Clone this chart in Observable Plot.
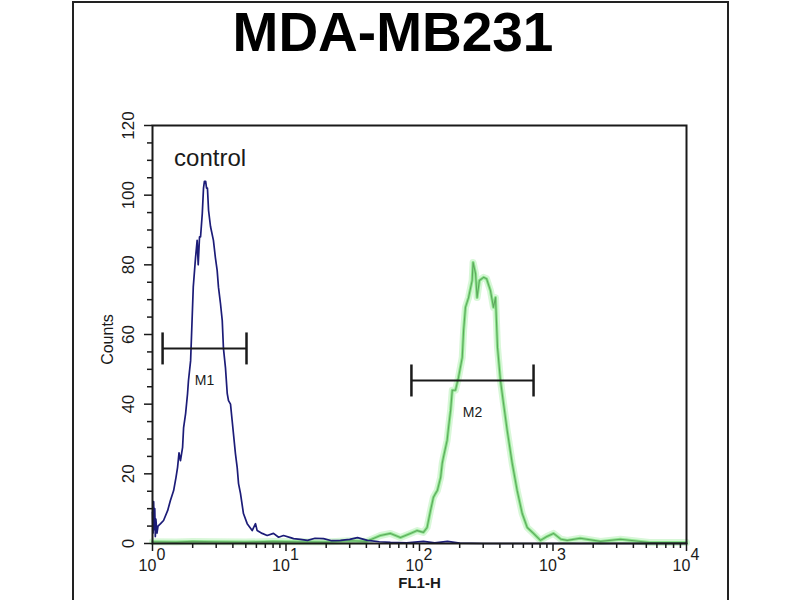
<!DOCTYPE html>
<html><head><meta charset="utf-8">
<script src="https://cdn.jsdelivr.net/npm/d3@7"></script>
<script src="https://cdn.jsdelivr.net/npm/@observablehq/plot@0.6"></script>
<style>
body{margin:0;background:#fff;overflow:hidden}
#wrap{position:relative;width:800px;height:600px;overflow:hidden;font-family:"Liberation Sans",Arial,sans-serif;background:#fff}
#border{position:absolute;left:72px;top:1px;width:653px;height:700px;border:2px solid #222;border-bottom:none}
#title{position:absolute;left:0;width:786px;top:2px;text-align:center;font-weight:bold;font-size:55px;color:#000;line-height:60px}
</style></head><body>
<div id="wrap"><div id="chart"></div><div id="border"></div><div id="title">MDA-MB231</div></div>
<script>
// ---- data ----
const blueX = [1.0, 1.01, 1.02, 1.03, 1.04, 1.05, 1.06, 1.08, 1.1, 1.15, 1.21, 1.3, 1.36, 1.44, 1.5, 1.54, 1.58, 1.62, 1.68, 1.71, 1.77, 1.83, 1.86, 1.93, 1.97, 2.02, 2.1, 2.16, 2.2, 2.25, 2.29, 2.36, 2.41, 2.45, 2.5, 2.54, 2.58, 2.63, 2.72, 2.86, 2.96, 3.05, 3.12, 3.23, 3.33, 3.4, 3.52, 3.63, 3.71, 3.84, 3.95, 4.18, 4.31, 4.41, 4.56, 4.8, 5.12, 5.58, 5.91, 6.08, 6.63, 7.23, 8.06, 8.8, 9.58, 10.8, 11.4, 12.8, 14.5, 16.5, 19.1, 22, 25.6, 30, 34.3, 40.8, 50, 60.6, 80, 107, 130, 162, 200, 300, 1000, 10000];
const blueY = [9, 3, 12, 4, 10, 2, 7, 3, 5, 5.7, 6.6, 9.5, 12.3, 15.2, 19, 21.8, 26, 23.8, 27.6, 33.3, 37.3, 43, 46.8, 52.5, 62, 73.6, 82, 87, 80, 88, 88, 94.7, 102, 104, 104, 102, 102, 95.6, 91, 87, 82, 78.4, 73.6, 68.9, 64, 56, 50.5, 43, 41, 40, 35.3, 25.8, 21.8, 17.2, 14.4, 8.6, 5.7, 3.7, 5.7, 3.7, 2.9, 2.3, 2.9, 1.8, 2.3, 1.7, 1.4, 1.2, 0.9, 1.5, 1.4, 0.8, 0.9, 1.2, 1.7, 0.9, 0.5, 0.3, 0.2, 0.6, 0.2, 0.6, 0.1, 0, 0, 0];
const greenX = [1, 1.5, 2, 3, 5, 8, 12, 20, 30, 40, 51, 60.6, 72, 85.6, 96, 107, 114, 121, 127, 132, 136, 144, 148, 151, 161, 165, 171, 176, 186, 196, 209, 214, 221, 233, 248, 252, 263, 270, 281, 302, 318, 340, 358, 371, 384, 404, 426, 454, 495, 539, 588, 641, 714, 806, 900, 1009, 1150, 1278, 1600, 2270, 3200, 5300, 10000];
const greenY = [0.5, 0.4, 0.6, 0.5, 0.4, 0.6, 0.5, 0.4, 0.8, 0.6, 2.3, 2.9, 1.7, 2.9, 3.7, 3.2, 4.6, 9.5, 13.2, 14.4, 15.2, 19, 23, 24.7, 29.6, 33.3, 38.2, 44, 44, 47.7, 53.4, 61.2, 67.8, 70.6, 75.5, 80.7, 77.5, 70.6, 75.5, 76.4, 76, 72.6, 67.8, 70.6, 56.3, 46.8, 40.2, 32.4, 23, 15.2, 8.6, 4.6, 2.9, 0.9, 2.0, 2.9, 1.2, 0.9, 1.5, 0.6, 1.2, 0.3, 0.3];
const markerNames = ["M1", "M2"];
const markerStart = [1.19, 87];
const markerEnd = [5.06, 715];
const markerLevel = [56, 46.8];
const xMajor = [1, 10, 100, 1000, 10000];
const xExponents = ["0", "1", "2", "3", "4"];
const xMinor = [2,3,4,5,6,7,8,9, 20,30,40,50,60,70,80,90, 200,300,400,500,600,700,800,900, 2000,3000,4000,5000,6000,7000,8000,9000];
const yMajor = [0, 20, 40, 60, 80, 100, 120];
const yMinor = [5, 10, 15, 25, 30, 35, 45, 50, 55, 65, 70, 75, 85, 90, 95, 105, 110, 115];
const titleText = "MDA-MB231";
const xLabel = "FL1-H";
const yLabel = "Counts";
const controlLabel = {x: 2.7, y: 110.5, text: "control"};

// ---- tables ----
const blue = blueX.map((x, i) => ({x, y: blueY[i]}));
const green = greenX.map((x, i) => ({x, y: greenY[i]}));
const markers = markerNames.map((name, i) => ({name, x1: markerStart[i], x2: markerEnd[i], level: markerLevel[i]}));
document.getElementById("title").textContent = titleText;

const cap = {draw(ctx, size) { const h = Math.sqrt(size / Math.PI); ctx.moveTo(0, -h); ctx.lineTo(0, h); }};
const ink = "#1a1a1a";
const font = "Liberation Sans, Arial, sans-serif";

const chart = Plot.plot({
  width: 800, height: 600,
  marginTop: 125, marginBottom: 57, marginLeft: 152, marginRight: 114,
  style: {background: "transparent", fontFamily: font, color: ink},
  x: {type: "log", domain: [1, 10000], axis: null},
  y: {domain: [0, 120], axis: null},
  marks: [
    Plot.line(green, {x: "x", y: "y", stroke: "#8fe88f", strokeWidth: 7, strokeOpacity: 0.35}),
    Plot.line(green, {x: "x", y: "y", stroke: "#5cd85c", strokeWidth: 3, strokeOpacity: 0.6}),
    Plot.line(green, {x: "x", y: "y", stroke: "#5ea85e", strokeWidth: 1.1}),
    Plot.line(blue, {x: "x", y: "y", stroke: "#1c1c78", strokeWidth: 1.7}),
    Plot.frame({stroke: ink, strokeWidth: 2}),
    Plot.axisY({ticks: yMinor, tickSize: 5, tickFormat: () => "", label: null, stroke: ink, strokeWidth: 1.5}),
    Plot.axisY({ticks: yMajor, tickSize: 8, tickFormat: () => "", label: null, stroke: ink, strokeWidth: 1.5}),
    Plot.axisX({ticks: xMinor, tickSize: 5, tickFormat: () => "", label: null, stroke: ink, strokeWidth: 1.5}),
    Plot.axisX({ticks: xMajor, tickSize: 8, tickFormat: () => "", label: null, stroke: ink, strokeWidth: 1.5}),
    Plot.text(yMajor, {y: d => d, text: d => String(d), frameAnchor: "left", textAnchor: "middle", lineAnchor: "middle", dx: -24, rotate: -90, fontSize: 17, fill: ink}),
    Plot.text([yLabel], {text: d => d, frameAnchor: "left", textAnchor: "middle", lineAnchor: "middle", dx: -45, dy: 5, rotate: -90, fontSize: 16, fill: ink}),
    Plot.text(xMajor, {x: d => d, text: () => "10", frameAnchor: "bottom", lineAnchor: "middle", dx: -5, dy: 22, fontSize: 16, fill: ink}),
    Plot.text(xMajor, {x: d => d, text: (d, i) => xExponents[i], frameAnchor: "bottom", lineAnchor: "middle", dx: 4, dy: 11, textAnchor: "start", fontSize: 16, fill: ink}),
    Plot.text([xLabel], {text: d => d, frameAnchor: "bottom", lineAnchor: "middle", dy: 40, fontSize: 15, fontWeight: "bold", fill: ink}),
    Plot.text([controlLabel], {x: "x", y: "y", text: "text", fontSize: 24, fill: ink}),
    Plot.ruleY(markers, {y: "level", x1: "x1", x2: "x2", stroke: ink, strokeWidth: 2}),
    Plot.dot(markers, {x: "x1", y: "level", symbol: cap, r: 16, stroke: ink, strokeWidth: 2.5, fill: "none"}),
    Plot.dot(markers, {x: "x2", y: "level", symbol: cap, r: 16, stroke: ink, strokeWidth: 2.5, fill: "none"}),
    Plot.text(markers, {x: d => Math.sqrt(d.x1 * d.x2), y: "level", text: "name", dy: 32, fontSize: 14, fill: ink})
  ]
});
document.getElementById("chart").appendChild(chart);
</script>
</body></html>
